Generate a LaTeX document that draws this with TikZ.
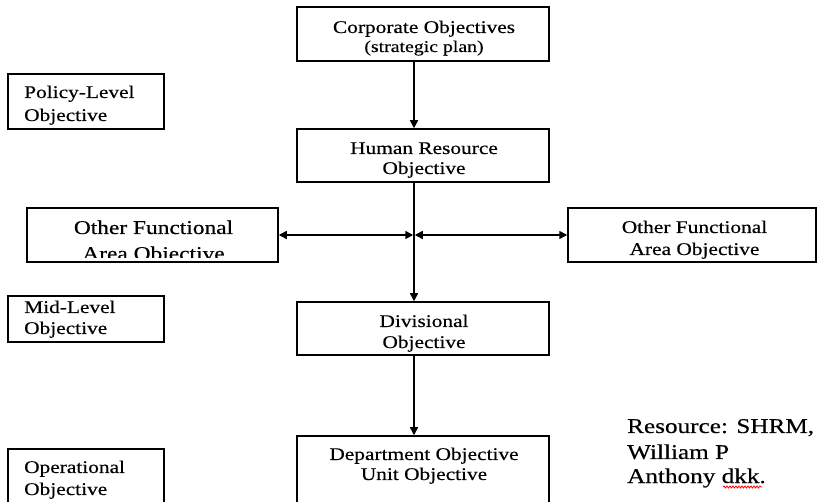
\documentclass[tikz,border=0pt]{standalone}
\usepackage{fontspec}
\usetikzlibrary{arrows.meta,decorations.pathmorphing}
\newfontfamily\diagfont[FakeStretch=1.2,FakeBold=0.4]{Liberation Serif}
\tikzset{
  box/.style={draw, line width=1.5pt, inner sep=0pt},
  lbl/.style={font=\diagfont\fontsize{17.8}{20}\selectfont, anchor=base, inner sep=0pt},
  lleft/.style={lbl, anchor=base west},
  tip/.tip={Triangle[length=8pt,width=8pt]},
  flow/.style={line width=1.5pt, -tip},
  twoway/.style={line width=1.5pt, tip-tip},
}
\begin{document}
\begin{tikzpicture}[x=1pt,y=-1pt]
\useasboundingbox (0,0) rectangle (817,502);

% main chain of boxes
\node[box, minimum width=252pt, minimum height=54pt] (corp) at (423,34) {};
\node[box, minimum width=252pt, minimum height=53pt] (hr) at (423,155.5) {};
\node[box, minimum width=252pt, minimum height=53pt] (div) at (423,328.5) {};
\node[box, minimum width=252pt, minimum height=84pt] (dept) at (423,478) {};

% level boxes on the left
\node[box, minimum width=156pt, minimum height=55pt] (pol) at (86,101.5) {};
\node[box, minimum width=156pt, minimum height=46pt] (mid) at (86,319) {};
\node[box, minimum width=156pt, minimum height=71pt] (op) at (86,484.5) {};

% functional areas
\node[box, minimum width=251pt, minimum height=54pt] (ofl) at (152.5,235) {};
\node[box, minimum width=248pt, minimum height=54pt] (ofr) at (692,235) {};

% texts
\node[lbl] (corpA) at (424,33) {Corporate Objectives};
\node[lbl, font=\diagfont\fontsize{16.5}{19}\selectfont] (corpB) at (424,52) {(strategic plan)};
\node[lbl] (hrA) at (424,154) {Human Resource};
\node[lbl] (hrB) at (424,174) {Objective};
\node[lbl] (divA) at (424,327) {Divisional};
\node[lbl] (divB) at (424,348) {Objective};
\node[lbl] (deptA) at (424,460) {Department Objective};
\node[lbl] (deptB) at (424,480) {Unit Objective};

\node[lleft] (polA) at (24,98) {Policy-Level};
\node[lleft] (polB) at (24,121) {Objective};
\node[lleft] (midA) at (24,313) {Mid-Level};
\node[lleft] (midB) at (24,334) {Objective};
\node[lleft] (opA) at (24,473) {Operational};
\node[lleft] (opB) at (24,495) {Objective};

\node[lbl, font=\diagfont\fontsize{19.5}{22}\selectfont] (oflA) at (153.5,234) {Other Functional};
\begin{scope}
  \clip (ofl.north west) rectangle ([yshift=5pt]ofl.south east);
  \node[lbl, font=\diagfont\fontsize{19.5}{22}\selectfont] (oflB) at (153.5,260) {Area Objective};
\end{scope}
\node[lbl] (ofrA) at (694.5,233) {Other Functional};
\node[lbl] (ofrB) at (694.5,255) {Area Objective};

% source note
\begin{scope}[every node/.style={font=\diagfont\fontsize{21}{25}\selectfont, anchor=base west, inner sep=0pt}]
  \node (resA) at (627,433) {Resource: SHRM,};
  \node (resB) at (627,459) {William P};
  \node (resC) at (627,483) {Anthony dkk.};
\end{scope}
\draw[red, line width=0.8pt, decorate, decoration={snake, amplitude=1pt, segment length=3pt}]
  (723,487) -- (762,487);

% connectors
\coordinate (spine) at (414,0);
\coordinate (j) at (414,235);
\draw[flow] (corp.south -| spine) -- (hr.north -| spine);
\draw[flow] (hr.south -| spine) -- (div.north -| spine);
\draw[flow] (div.south -| spine) -- (dept.north -| spine);
\draw[twoway] ([xshift=-0.75pt]j) -- (ofl.east |- j);
\draw[twoway] ([xshift=0.75pt]j) -- (ofr.west |- j);
\end{tikzpicture}
\end{document}
